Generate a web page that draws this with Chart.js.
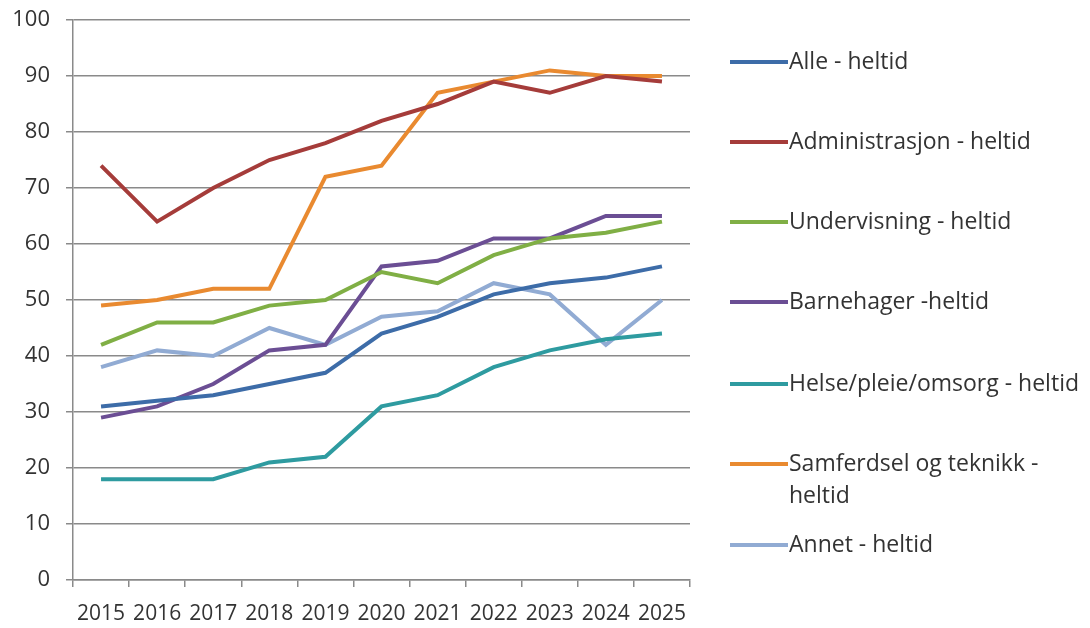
<!DOCTYPE html>
<html>
<head>
<meta charset="utf-8">
<script src="https://cdn.jsdelivr.net/npm/chart.js@4/dist/chart.umd.min.js"></script>
<style>
  html, body { margin: 0; padding: 0; background: #fff; }
  #wrap { width: 1090px; height: 628px; position: relative; }
</style>
</head>
<body>
<div id="wrap"><canvas id="myChart" width="1090" height="628"></canvas></div>
<script>
// Data
const years = ["2015","2016","2017","2018","2019","2020","2021","2022","2023","2024","2025"];
const alle        = [31, 32, 33, 35, 37, 44, 47, 51, 53, 54, 56];
const admin       = [74, 64, 70, 75, 78, 82, 85, 89, 87, 90, 89];
const undervisning= [42, 46, 46, 49, 50, 55, 53, 58, 61, 62, 64];
const barnehager  = [29, 31, 35, 41, 42, 56, 57, 61, 61, 65, 65];
const helse       = [18, 18, 18, 21, 22, 31, 33, 38, 41, 43, 44];
const samferdsel  = [49, 50, 52, 52, 72, 74, 87, 89, 91, 90, 90];
const annet       = [38, 41, 40, 45, 42, 47, 48, 53, 51, 42, 50];
const yTicks      = [0, 10, 20, 30, 40, 50, 60, 70, 80, 90, 100];

const names = ["Alle - heltid", "Administrasjon - heltid", "Undervisning - heltid",
  "Barnehager -heltid", "Helse/pleie/omsorg - heltid", "Samferdsel og teknikk - heltid", "Annet - heltid"];
// how the legend breaks the long entries
const legendLines = [["Alle - heltid"], ["Administrasjon - heltid"], ["Undervisning - heltid"],
  ["Barnehager -heltid"], ["Helse/pleie/omsorg - heltid"], ["Samferdsel og teknikk -", "heltid"], ["Annet - heltid"]];
const colors = ["#3D6CA8", "#A53C3A", "#80AF45", "#6B4E94", "#2E9BA0", "#E98A30", "#91ABD3"];
const series = [alle, admin, undervisning, barnehager, helse, samferdsel, annet];

const FONT = "'Open Sans', 'Liberation Sans', sans-serif";
const TXT = "#333333";

// legend drawn on the right side of the canvas
const sideLegend = {
  id: "sideLegend",
  afterDraw(chart) {
    const ctx = chart.ctx;
    const rows = [62, 142, 222, 302, 384, 464, 545];
    ctx.save();
    ctx.font = "23px " + FONT;
    ctx.fillStyle = TXT;
    ctx.textBaseline = "middle";
    chart.data.datasets.forEach((ds, i) => {
      const y = rows[i];
      ctx.strokeStyle = ds.borderColor;
      ctx.lineWidth = 4;
      ctx.beginPath();
      ctx.moveTo(730, y);
      ctx.lineTo(788, y);
      ctx.stroke();
      legendLines[i].forEach((t, k) => ctx.fillText(t, 789, y + k * 32));
    });
    ctx.restore();
  }
};

const datasets = series.map((d, i) => ({
  label: names[i],
  data: d,
  borderColor: colors[i],
  backgroundColor: colors[i],
  borderWidth: 4,
  pointRadius: 0,
  tension: 0,
  fill: false
}));

new Chart(document.getElementById("myChart"), {
  type: "line",
  data: { labels: years, datasets },
  options: {
    responsive: false,
    animation: false,
    layout: { padding: { left: 0, right: 400, top: 20, bottom: 0 } },
    plugins: { legend: { display: false }, tooltip: { enabled: false } },
    scales: {
      x: {
        offset: true,
        grid: { offset: true, drawOnChartArea: false, color: "#8a8a8a", lineWidth: 1.5, tickLength: 7 },
        border: { color: "#8a8a8a", width: 1.5 },
        ticks: { color: TXT, font: { family: FONT, size: 21 }, padding: 14, maxRotation: 0, autoSkip: false },
        afterFit(s) { s.height = 48; }
      },
      y: {
        min: 0, max: 100,
        afterBuildTicks(s) { s.ticks = yTicks.map(v => ({ value: v })); },
        grid: { color: "#8a8a8a", lineWidth: 1.5, tickLength: 7 },
        border: { color: "#8a8a8a", width: 1.5 },
        ticks: { color: TXT, font: { family: FONT, size: 22 }, padding: 16 },
        afterFit(s) { s.width = 73; s.paddingTop = 0; s.paddingBottom = 0; }
      }
    }
  },
  plugins: [sideLegend]
});
</script>
</body>
</html>
